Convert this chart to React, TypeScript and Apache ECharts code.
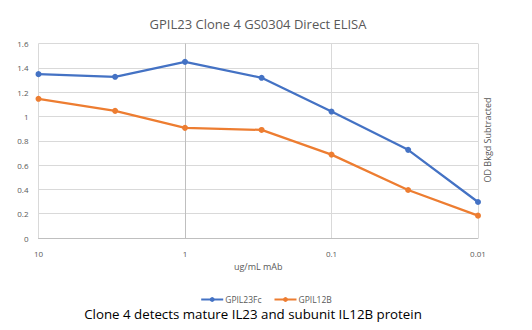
import React, { useEffect, useRef } from "react";
import * as echarts from "echarts";

// Antibody concentration (ug/mL) and background-subtracted OD readings
const concentrations = [10, 3, 1, 0.3, 0.1, 0.03, 0.01];
const gpil23Fc = [1.348, 1.326, 1.449, 1.318, 1.04, 0.725, 0.296];
const gpil12B = [1.145, 1.046, 0.906, 0.889, 0.686, 0.395, 0.184];
const seriesNames = ["GPIL23Fc", "GPIL12B"];

const FONT = "'Open Sans', 'Liberation Sans', sans-serif";

export default function App() {
  const ref = useRef<HTMLDivElement>(null);

  useEffect(() => {
    if (!ref.current) return;
    const chart = echarts.init(ref.current, undefined, { renderer: "svg" });
    const pair = (vals: number[]) => concentrations.map((c, i) => [c, vals[i]]);
    chart.setOption({
      animation: false,
      backgroundColor: "#ffffff",
      textStyle: { fontFamily: FONT },
      title: {
        text: "GPIL23 Clone 4 GS0304 Direct ELISA",
        left: 253,
        textAlign: "center",
        top: 12,
        textStyle: { fontFamily: FONT, fontSize: 13, fontWeight: "normal", color: "#595959" },
      },
      legend: {
        data: seriesNames,
        left: "center",
        top: 290,
        itemWidth: 22,
        itemHeight: 6,
        itemGap: 12,
        textStyle: { fontFamily: FONT, fontSize: 8.5, color: "#595959", padding: [0, 0, 0, -3] },
      },
      grid: { left: 38.5, right: 54, top: 43.5, bottom: 92 },
      xAxis: {
        type: "log",
        logBase: 10,
        min: 0.01,
        max: 10,
        inverse: true,
        name: "ug/mL mAb",
        nameLocation: "middle",
        nameGap: 23,
        nameTextStyle: { fontFamily: FONT, fontSize: 9, color: "#595959" },
        axisLine: { show: true, lineStyle: { color: "#bfbfbf", width: 1 } },
        axisTick: { show: false },
        axisLabel: {
          fontFamily: FONT,
          fontSize: 8,
          color: "#595959",
          margin: 11,
          formatter: (v: number) => String(+v.toPrecision(3)),
        },
        splitLine: {
          show: true,
          lineStyle: { color: ["#d9d9d9", "#d9d9d9", "#bfbfbf", "#d9d9d9"], width: 1 },
        },
      },
      yAxis: {
        type: "value",
        min: 0,
        max: 1.6,
        interval: 0.2,
        axisLine: { show: false },
        axisTick: { show: false },
        axisLabel: {
          fontFamily: FONT,
          fontSize: 8,
          color: "#595959",
          margin: 10,
          formatter: (v: number) => String(+v.toFixed(1)),
        },
        splitLine: { show: true, lineStyle: { color: "#d9d9d9", width: 1 } },
      },
      graphic: [
        {
          type: "text",
          x: 487,
          y: 140,
          rotation: Math.PI / 2,
          style: {
            text: "OD Bkgd Subtracted",
            fontFamily: FONT,
            fontSize: 9,
            fill: "#595959",
            align: "center",
            verticalAlign: "middle",
          },
        },
        {
          type: "text",
          x: 253,
          y: 314,
          style: {
            text: "Clone 4 detects mature IL23 and subunit IL12B protein",
            fontFamily: FONT,
            fontSize: 13.3,
            fill: "#000000",
            align: "center",
            verticalAlign: "middle",
          },
        },
      ],
      series: [
        {
          name: seriesNames[0],
          type: "line",
          data: pair(gpil23Fc),
          color: "#4472C4",
          lineStyle: { width: 2.25 },
          symbol: "circle",
          symbolSize: 6,
        },
        {
          name: seriesNames[1],
          type: "line",
          data: pair(gpil12B),
          color: "#ED7D31",
          lineStyle: { width: 2.25 },
          symbol: "circle",
          symbolSize: 6,
        },
      ],
    });
    return () => chart.dispose();
  }, []);

  return <div ref={ref} style={{ width: 532, height: 330, margin: -8 }} />;
}
